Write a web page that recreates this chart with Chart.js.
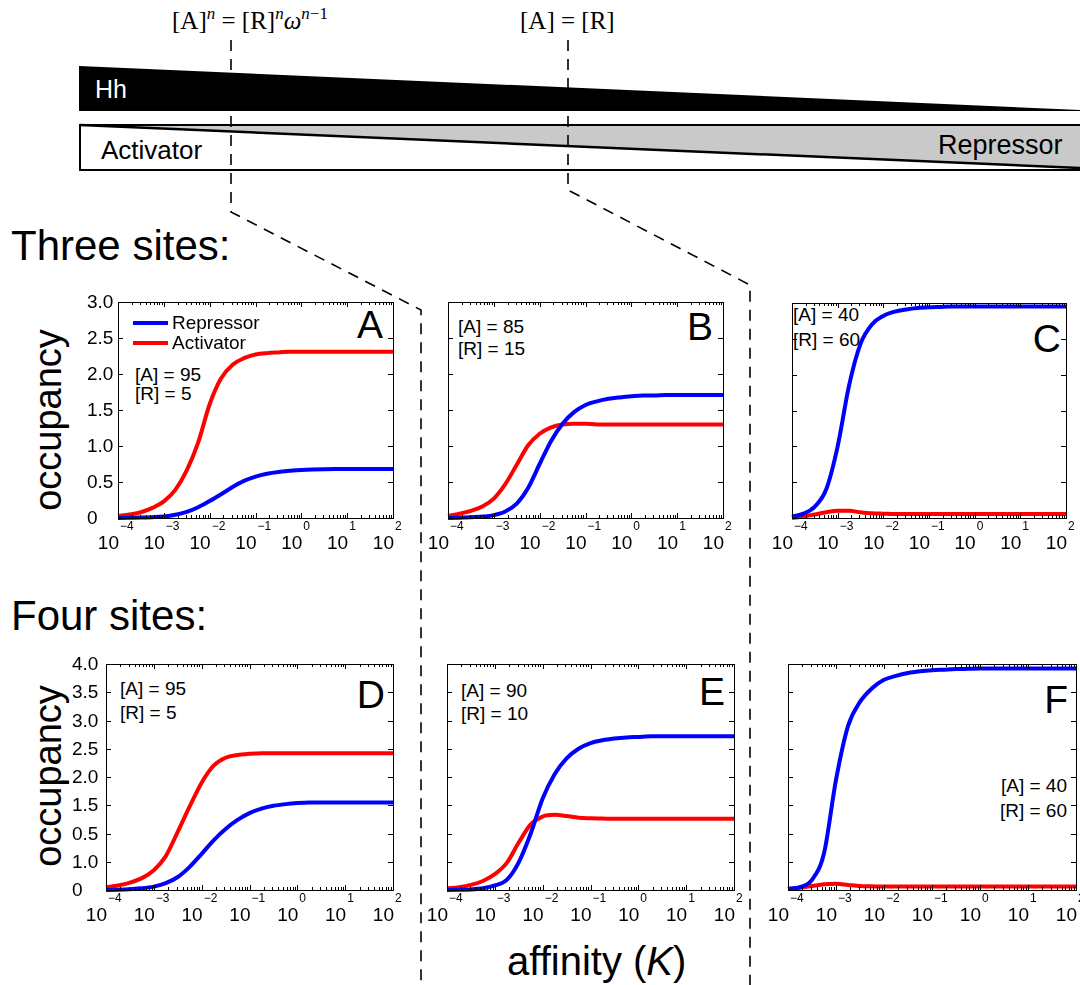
<!DOCTYPE html>
<html>
<head>
<meta charset="utf-8">
<script src="https://cdn.jsdelivr.net/npm/chart.js@4.4.0/dist/chart.umd.min.js"></script>
<style>
html, body { margin: 0; padding: 0; background: #fff; overflow: hidden; }
#page { position: relative; width: 1080px; height: 985px; }
#page svg { position: absolute; left: 0; top: 0; }
#page canvas { position: absolute; }
</style>
</head>
<body>
<div id="page">
<svg width="1080" height="985" font-family="'Liberation Sans', Arial, sans-serif">
  <!-- formulas -->
  <text x="172" y="29" font-family="'Liberation Serif', serif" font-size="25">[A]<tspan font-style="italic" font-size="17" dy="-10">n</tspan><tspan dy="10"> = [R]</tspan><tspan font-style="italic" font-size="17" dy="-10">n</tspan><tspan font-style="italic" dy="10">ω</tspan><tspan font-style="italic" font-size="17" dy="-10">n</tspan><tspan font-size="17">−1</tspan></text>
  <text x="520" y="29" font-family="'Liberation Serif', serif" font-size="25">[A] = [R]</text>

  <!-- Hh wedge -->
  <polygon points="79,66 1080,110 1080,111 79,111" fill="#000"/>
  <text x="95" y="98" font-size="25" fill="#fff">Hh</text>

  <!-- activator / repressor bar -->
  <rect x="80" y="125" width="1030" height="45" fill="#fff" stroke="#000" stroke-width="2"/>
  <polygon points="80,125 1110,125 1110,169 1080,168" fill="#c9c9c9"/>
  <line x1="80" y1="125" x2="1080" y2="168" stroke="#000" stroke-width="2.5"/>
  <rect x="80" y="125" width="1030" height="45" fill="none" stroke="#000" stroke-width="2"/>
  <text x="101" y="159" font-size="26">Activator</text>
  <text x="938" y="154" font-size="27">Repressor</text>

  <!-- dashed guides -->
  <path d="M231,40 V212 L421,310 V985" fill="none" stroke="#000" stroke-width="1.6" stroke-dasharray="11 8"/>
  <path d="M568,40 V190 L750,285 V985" fill="none" stroke="#000" stroke-width="1.6" stroke-dasharray="11 8"/>

  <!-- row titles / axis titles -->
  <text x="11" y="260" font-size="42">Three sites:</text>
  <text x="11" y="630" font-size="42">Four sites:</text>
  <text transform="translate(61,420) rotate(-90)" text-anchor="middle" font-size="38">occupancy</text>
  <text transform="translate(61,776) rotate(-90)" text-anchor="middle" font-size="38">occupancy</text>
  <text x="507" y="975" font-size="40">affinity (<tspan font-style="italic">K</tspan>)</text>

  <!-- panel notes -->
  <g font-size="19">
    <text x="135" y="381">[A] = 95</text>
    <text x="135" y="400">[R] = 5</text>
    <text x="458" y="333">[A] = 85</text>
    <text x="458" y="355">[R] = 15</text>
    <text x="793" y="321">[A] = 40</text>
    <text x="793" y="346">[R] = 60</text>
    <text x="120" y="695">[A] = 95</text>
    <text x="120" y="719">[R] = 5</text>
    <text x="461" y="697">[A] = 90</text>
    <text x="461" y="720">[R] = 10</text>
    <text x="1067" y="792" text-anchor="end">[A] = 40</text>
    <text x="1067" y="817" text-anchor="end">[R] = 60</text>
  </g>
  <g font-size="39" text-anchor="end">
    <text x="383" y="338">A</text>
    <text x="713" y="340">B</text>
    <text x="1061" y="352">C</text>
    <text x="385" y="708">D</text>
    <text x="725" y="705">E</text>
    <text x="1068" y="713">F</text>
  </g>
</svg>
</div>

<script>
// log10 of the affinity K at each sample
const exponents = [-4, -3.75, -3.5, -3.25, -3, -2.75, -2.5, -2.25, -2, -1.75, -1.5, -1.25, -1,
                   -0.75, -0.5, -0.25, 0, 0.25, 0.5, 0.75, 1, 1.25, 1.5, 1.75, 2];

// three sites
const repressorA = [0, 0.003, 0.006, 0.012, 0.022, 0.045, 0.085, 0.15, 0.235, 0.33, 0.43, 0.515, 0.575,
                    0.615, 0.64, 0.655, 0.667, 0.674, 0.678, 0.68, 0.68, 0.68, 0.68, 0.68, 0.68];
const activatorA = [0.03, 0.05, 0.08, 0.14, 0.23, 0.39, 0.66, 1.05, 1.58, 1.94, 2.13, 2.22, 2.27,
                    2.29, 2.3, 2.31, 2.31, 2.31, 2.31, 2.31, 2.31, 2.31, 2.31, 2.31, 2.31];
const repressorB = [0, 0.005, 0.01, 0.02, 0.04, 0.09, 0.2, 0.42, 0.75, 1.07, 1.31, 1.47, 1.57,
                    1.62, 1.655, 1.675, 1.69, 1.7, 1.7, 1.71, 1.71, 1.71, 1.71, 1.71, 1.71];
const activatorB = [0.03, 0.06, 0.1, 0.16, 0.27, 0.47, 0.74, 1.01, 1.17, 1.26, 1.3, 1.31, 1.31,
                    1.3, 1.3, 1.3, 1.3, 1.3, 1.3, 1.3, 1.3, 1.3, 1.3, 1.3, 1.3];
const repressorC = [0.02, 0.06, 0.16, 0.4, 1.0, 1.85, 2.43, 2.7, 2.82, 2.88, 2.91, 2.93, 2.94,
                    2.945, 2.95, 2.95, 2.95, 2.95, 2.95, 2.95, 2.95, 2.95, 2.95, 2.95, 2.95];
const activatorC = [0, 0.02, 0.05, 0.08, 0.1, 0.1, 0.08, 0.065, 0.06, 0.055, 0.055, 0.055, 0.055,
                    0.055, 0.055, 0.055, 0.055, 0.055, 0.055, 0.055, 0.055, 0.055, 0.055, 0.055, 0.055];

// four sites
const repressorD = [0, 0.005, 0.015, 0.03, 0.06, 0.12, 0.23, 0.41, 0.64, 0.88, 1.08, 1.24, 1.36,
                    1.44, 1.49, 1.52, 1.54, 1.55, 1.55, 1.55, 1.55, 1.55, 1.55, 1.55, 1.55];
const activatorD = [0.05, 0.08, 0.13, 0.21, 0.35, 0.6, 1.03, 1.48, 1.9, 2.2, 2.34, 2.39, 2.41,
                    2.42, 2.42, 2.42, 2.42, 2.42, 2.42, 2.42, 2.42, 2.42, 2.42, 2.42, 2.42];
const repressorE = [0, 0.005, 0.01, 0.03, 0.08, 0.18, 0.49, 1.0, 1.62, 2.05, 2.33, 2.5, 2.6,
                    2.65, 2.68, 2.7, 2.71, 2.72, 2.72, 2.72, 2.72, 2.72, 2.72, 2.72, 2.72];
const activatorE = [0.03, 0.05, 0.09, 0.16, 0.28, 0.48, 0.84, 1.16, 1.3, 1.33, 1.31, 1.28, 1.27,
                    1.265, 1.26, 1.26, 1.26, 1.26, 1.26, 1.26, 1.26, 1.26, 1.26, 1.26, 1.26];
const repressorF = [0.02, 0.05, 0.18, 0.65, 1.95, 2.9, 3.33, 3.57, 3.72, 3.79, 3.84, 3.87, 3.89,
                    3.9, 3.91, 3.915, 3.92, 3.92, 3.92, 3.92, 3.92, 3.92, 3.92, 3.92, 3.92];
const activatorF = [0.02, 0.04, 0.07, 0.1, 0.11, 0.09, 0.07, 0.065, 0.06, 0.06, 0.06, 0.06, 0.06,
                    0.06, 0.06, 0.06, 0.06, 0.06, 0.06, 0.06, 0.06, 0.06, 0.06, 0.06, 0.06];

// tick labels
const xTickExponents = [-4, -3, -2, -1, 0, 1, 2];
const yLabelsThree = ['0', '0.5', '1.0', '1.5', '2.0', '2.5', '3.0'];
const yLabelsFour = ['0', '1.0', '0.5', '1.5', '2.0', '2.5', '3.0', '3.5', '4.0'];

const seriesNames = ['Repressor', 'Activator'];
const seriesColors = ['#0000ff', '#ff0000'];

const FONT = "'Liberation Sans', Arial, sans-serif";

// box = [left, top, right, bottom] of the plot frame in page pixels
const panels = [
  {box: [118, 302, 393, 518], ymax: 3, rep: repressorA, act: activatorA, yLabels: yLabelsThree, labelDx: -31, legend: true},
  {box: [448, 302, 723, 518], ymax: 3, rep: repressorB, act: activatorB},
  {box: [792, 303, 1066, 518], ymax: 3, rep: repressorC, act: activatorC},
  {box: [106, 664, 393, 890], ymax: 4, rep: repressorD, act: activatorD, yLabels: yLabelsFour, labelDx: -34},
  {box: [447, 664, 734, 890], ymax: 4, rep: repressorE, act: activatorE},
  {box: [788, 664, 1076, 890], ymax: 4, rep: repressorF, act: activatorF}
];

const PAD = {left: 60, top: 20, right: 20, bottom: 45};

function supText(e){
  return e < 0 ? '\u2212' + Math.abs(e) : String(e);
}

// frame, inward ticks, 10^k labels and legend, all placed with the chart scales
const axesBox = {
  id: 'axesBox',
  afterDatasetsDraw(chart, args, opts){
    const ctx = chart.ctx;
    const a = chart.chartArea;
    const xs = chart.scales.x, ys = chart.scales.y;
    ctx.save();
    ctx.strokeStyle = '#000';
    ctx.lineWidth = 1;
    ctx.strokeRect(a.left + 0.5, a.top + 0.5, a.right - a.left, a.bottom - a.top);

    ctx.beginPath();
    xTickExponents.forEach((e) => {
      const px = Math.round(xs.getPixelForValue(Math.pow(10, e))) + 0.5;
      ctx.moveTo(px, a.bottom); ctx.lineTo(px, a.bottom - 5);
      ctx.moveTo(px, a.top); ctx.lineTo(px, a.top + 5);
      if (e < 2){
        for (let m = 2; m <= 9; m++){
          const mx = Math.round(xs.getPixelForValue(m * Math.pow(10, e))) + 0.5;
          ctx.moveTo(mx, a.bottom); ctx.lineTo(mx, a.bottom - 3);
          ctx.moveTo(mx, a.top); ctx.lineTo(mx, a.top + 3);
        }
      }
    });
    for (let v = 0.5; v < opts.ymax; v += 0.5){
      const py = Math.round(ys.getPixelForValue(v)) + 0.5;
      ctx.moveTo(a.left, py); ctx.lineTo(a.left + 5, py);
      ctx.moveTo(a.right, py); ctx.lineTo(a.right - 5, py);
    }
    ctx.stroke();

    ctx.fillStyle = '#000';
    xTickExponents.forEach((e) => {
      const px = xs.getPixelForValue(Math.pow(10, e));
      ctx.font = '19px ' + FONT;
      ctx.textAlign = 'right';
      ctx.textBaseline = 'alphabetic';
      ctx.fillText('10', px + 1, a.bottom + 31);
      ctx.font = '12px ' + FONT;
      ctx.textAlign = 'left';
      ctx.fillText(supText(e), px + 2, a.bottom + 12);
    });

    if (opts.yLabels){
      ctx.font = '19px ' + FONT;
      ctx.textAlign = 'left';
      ctx.textBaseline = 'middle';
      opts.yLabels.forEach((lab, i) => {
        ctx.fillText(lab, a.left + opts.labelDx, ys.getPixelForValue(i * 0.5) + 1);
      });
    }

    if (opts.legend){
      ctx.textBaseline = 'alphabetic';
      ctx.font = '19px ' + FONT;
      chart.data.datasets.forEach((ds, i) => {
        const y = a.top + 21 + i * 20;
        ctx.strokeStyle = ds.borderColor;
        ctx.lineWidth = 4;
        ctx.beginPath();
        ctx.moveTo(a.left + 15, y); ctx.lineTo(a.left + 50, y);
        ctx.stroke();
        ctx.fillStyle = '#000';
        ctx.fillText(ds.label, a.left + 54, y + 6);
      });
    }
    ctx.restore();
  }
};

function makeSeries(values){
  return exponents.map((e, i) => ({x: Math.pow(10, e), y: values[i]}));
}

const page = document.getElementById('page');

panels.forEach((p) => {
  const [L, T, R, B] = p.box;
  const canvas = document.createElement('canvas');
  canvas.width = (R - L) + PAD.left + PAD.right;
  canvas.height = (B - T) + PAD.top + PAD.bottom;
  canvas.style.left = (L - PAD.left) + 'px';
  canvas.style.top = (T - PAD.top) + 'px';
  page.appendChild(canvas);

  new Chart(canvas, {
    type: 'line',
    data: {
      datasets: [
        {label: seriesNames[0], data: makeSeries(p.rep), borderColor: seriesColors[0]},
        {label: seriesNames[1], data: makeSeries(p.act), borderColor: seriesColors[1]}
      ]
    },
    options: {
      responsive: false,
      animation: false,
      devicePixelRatio: 1,
      layout: {padding: PAD},
      datasets: {
        line: {borderWidth: 4, pointRadius: 0, fill: false, clip: false, cubicInterpolationMode: 'monotone'}
      },
      scales: {
        x: {type: 'logarithmic', min: 1e-4, max: 100, display: false},
        y: {type: 'linear', min: 0, max: p.ymax, display: false}
      },
      plugins: {
        legend: {display: false},
        tooltip: {enabled: false},
        axesBox: {ymax: p.ymax, yLabels: p.yLabels, labelDx: p.labelDx, legend: p.legend}
      }
    },
    plugins: [axesBox]
  });
});
</script>
</body>
</html>
